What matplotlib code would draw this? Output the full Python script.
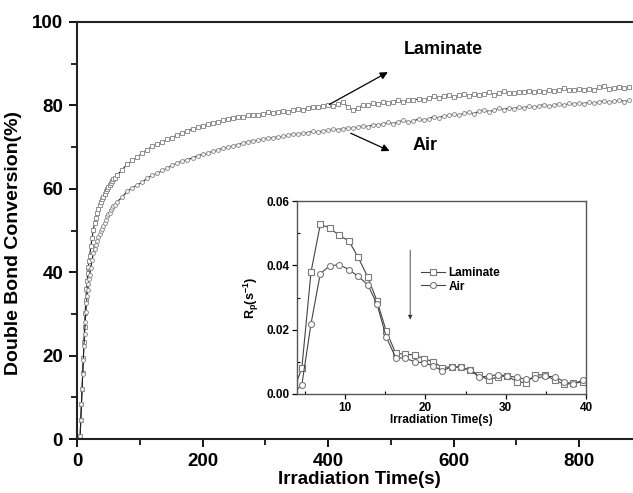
import numpy as np
import matplotlib
matplotlib.use('Agg')
import matplotlib.pyplot as plt
from matplotlib.ticker import MultipleLocator, FormatStrFormatter

plt.rcParams['font.family'] = ['Liberation Sans', 'DejaVu Sans']
plt.rcParams['font.weight'] = 'bold'

#%% data - main plot (double bond conversion, %)

# sampling times (s): dense at start, then every 8 s
t_main = list(range(5, 21)) + list(range(22, 61, 2)) + list(range(64, 881, 8))

conv_laminate = [0.8, 4.5, 8.3, 12.0, 15.8, 19.5, 23.2, 26.8, 30.2, 33.3, 36.0, 38.0, 39.7, 41.2, 42.6, 43.9,
                 46.2, 48.3, 50.1, 51.8, 53.0, 54.1, 55.1, 56.0, 56.8, 57.5,
                 58.1, 58.8, 59.4, 60.0, 60.5, 61.0, 61.4, 61.9, 62.3, 62.7,
                 63.3, 64.6, 65.9, 66.8, 67.6, 68.6, 69.4, 70.2, 70.7, 71.2,
                 71.9, 72.3, 73.0, 73.5, 73.9, 74.3, 74.8, 75.1, 75.6, 75.8,
                 76.1, 76.4, 76.8, 76.9, 77.3, 77.2, 77.6, 77.8, 77.6, 78.0,
                 78.3, 78.1, 78.5, 78.6, 78.4, 78.9, 79.2, 79.0, 79.4, 79.7,
                 79.5, 79.9, 80.1, 79.9, 80.4, 80.7, 79.6, 78.9, 79.4, 80.2,
                 80.0, 80.5, 80.3, 80.8, 80.6, 80.9, 81.2, 80.9, 81.4, 81.2,
                 81.6, 81.3, 81.8, 82.2, 81.7, 82.3, 82.6, 81.9, 82.4, 82.7,
                 82.3, 82.8, 82.5, 82.7, 83.1, 82.6, 83.0, 83.4, 83.0, 82.9,
                 83.3, 83.1, 83.5, 83.2, 83.4, 83.3, 83.6, 83.4, 83.8, 84.1,
                 83.6, 83.7, 83.9, 83.6, 84.0, 83.8, 84.3, 84.6, 84.0, 84.1,
                 84.5, 84.2, 84.4]

conv_air = [0.8, 4.5, 8.3, 12.0, 15.6, 19.0, 22.2, 25.2, 28.0, 30.4, 32.5, 34.3, 35.8, 37.1, 38.3, 39.4,
            41.1, 42.9, 44.5, 45.6, 46.6, 47.6, 48.4, 49.1, 49.8, 50.4,
            51.1, 51.8, 52.6, 53.4, 53.9, 54.3, 54.8, 55.3, 55.8, 56.2,
            56.9, 58.0, 59.4, 60.2, 60.9, 61.6, 62.6, 63.2, 63.7, 64.4,
            65.0, 65.6, 66.2, 66.7, 67.0, 67.4, 67.9, 68.3, 68.5, 69.0,
            69.3, 69.7, 70.0, 70.2, 70.6, 70.9, 71.3, 71.5, 71.6, 72.0,
            72.1, 72.3, 72.4, 72.6, 72.8, 73.2, 73.1, 73.4, 73.5, 73.8,
            73.6, 73.9, 74.0, 74.3, 74.2, 74.4, 74.6, 74.5, 74.8, 75.1,
            74.9, 75.4, 75.3, 75.6, 75.9, 75.6, 76.1, 76.4, 76.0, 76.3,
            76.7, 76.4, 76.8, 77.3, 77.0, 77.5, 77.6, 77.9, 77.6, 78.1,
            78.4, 78.0, 78.6, 78.9, 78.5, 78.8, 79.3, 79.0, 79.4, 79.2,
            79.6, 79.4, 79.8, 79.5, 79.9, 80.2, 79.8, 80.1, 80.4, 80.0,
            80.5, 80.3, 80.6, 80.4, 80.8, 80.5, 80.9, 81.1, 80.7, 81.0,
            81.3, 80.9, 81.2]

assert len(conv_laminate) == len(t_main), (len(conv_laminate), len(t_main))
assert len(conv_air) == len(t_main), (len(conv_air), len(t_main))

#%% data - inset (polymerization rate, 1/s)

t_inset = [3.4, 4.6, 5.75, 6.9, 8.05, 9.25, 10.45, 11.6, 12.8, 13.95, 15.1, 16.3, 17.5, 18.7, 19.8, 21.0,
           22.1, 23.3, 24.4, 25.6, 26.7, 27.9, 29.0, 30.2, 31.4, 32.5, 33.7, 34.9, 36.1, 37.3, 38.4, 39.6]
rp_laminate = [0.0, 0.008, 0.038, 0.0527, 0.0517, 0.0493, 0.0476, 0.0426, 0.0364, 0.029, 0.0197, 0.0126,
               0.0124, 0.0121, 0.0110, 0.0100, 0.0082, 0.0085, 0.0083, 0.0074, 0.0059, 0.0043, 0.0054,
               0.0056, 0.0038, 0.0035, 0.0060, 0.0059, 0.0043, 0.0030, 0.0033, 0.0038]
rp_air = [0.0, 0.0028, 0.0219, 0.0374, 0.0398, 0.0402, 0.0387, 0.0366, 0.034, 0.0281, 0.0178, 0.0113,
          0.0111, 0.0100, 0.0097, 0.0087, 0.0072, 0.0085, 0.0083, 0.0074, 0.0052, 0.0056, 0.0060,
          0.0056, 0.0052, 0.0046, 0.0049, 0.0055, 0.0054, 0.0038, 0.0031, 0.0043]

#%% figure

W, H = 633, 493
fig = plt.figure(figsize=(W/100, H/100), dpi=100)

# main axes (right end runs past the picture edge, as in the source scan)
ax = fig.add_axes([77/W, 1-439/H, 565/W, 417/H])

ax.plot(t_main, conv_laminate, '-', color='#222222', lw=0.8, marker='s', ms=2.8,
        mfc='white', mec='#8f8f8f', mew=0.7)
ax.plot(t_main, conv_air, '-', color='#222222', lw=0.8, marker='o', ms=2.8,
        mfc='white', mec='#8f8f8f', mew=0.7)

ax.set_xlim(0, 900)
ax.set_ylim(0, 100)
ax.xaxis.set_major_locator(MultipleLocator(200))
ax.xaxis.set_minor_locator(MultipleLocator(100))
ax.yaxis.set_major_locator(MultipleLocator(20))
ax.yaxis.set_minor_locator(MultipleLocator(10))
ax.tick_params(which='major', direction='out', length=6, width=1.3, labelsize=13.5, pad=4)
ax.tick_params(which='minor', direction='out', length=4, width=1.2)
for sp in ax.spines.values():
    sp.set_linewidth(1.5)
    sp.set_color('#222222')

ax.set_xlabel('Irradiation Time(s)', fontsize=13.5, fontweight='bold', labelpad=1)
ax.set_ylabel('Double Bond Conversion(%)', fontsize=14, fontweight='bold')
ax.yaxis.set_label_coords(-0.097, 0.47)

ax.annotate('', xy=(499, 88.3), xytext=(398, 79.9),
            arrowprops=dict(arrowstyle='-|>', color='k', lw=0.9, mutation_scale=11))
ax.annotate('', xy=(502, 68.8), xytext=(432, 73.6),
            arrowprops=dict(arrowstyle='-|>', color='k', lw=0.9, mutation_scale=11))
ax.text(583, 93.3, 'Laminate', ha='center', va='center', fontsize=13, fontweight='bold')
ax.text(555, 70.3, 'Air', ha='center', va='center', fontsize=13, fontweight='bold')

# inset
ax2 = fig.add_axes([297/W, 1-394/H, 289/W, 193/H])
ax2.plot(t_inset, rp_laminate, '-', color='#444444', lw=0.8, marker='s', ms=4.3,
         mfc='white', mec='#7a7a7a', mew=0.8, label='Laminate')
ax2.plot(t_inset, rp_air, '-', color='#444444', lw=0.8, marker='o', ms=4.3,
         mfc='white', mec='#7a7a7a', mew=0.8, label='Air')

ax2.set_xlim(4, 40)
ax2.set_ylim(0, 0.06)
ax2.xaxis.set_major_locator(MultipleLocator(10))
ax2.xaxis.set_minor_locator(MultipleLocator(5))
ax2.yaxis.set_major_locator(MultipleLocator(0.02))
ax2.yaxis.set_minor_locator(MultipleLocator(0.01))
ax2.yaxis.set_major_formatter(FormatStrFormatter('%.2f'))
ax2.tick_params(which='major', direction='out', length=3.5, width=0.9, labelsize=8.5, pad=2)
ax2.tick_params(which='minor', direction='in', length=2.5, width=0.8)
for sp in ax2.spines.values():
    sp.set_linewidth(1.0)
    sp.set_color('#555555')

ax2.set_xlabel('Irradiation Time(s)', fontsize=8.5, fontweight='bold', labelpad=0)
ax2.set_ylabel(r'R$_\mathregular{p}$(s$^\mathregular{-1}$)', fontsize=9, fontweight='bold', labelpad=4)

ax2.annotate('', xy=(18.1, 0.0223), xytext=(18.1, 0.0456),
             arrowprops=dict(arrowstyle='-|>', color='#333333', lw=0.6, mutation_scale=6))

ax2.legend(loc='upper left', bbox_to_anchor=(0.41, 0.69), frameon=False, borderpad=0,
           handlelength=2.0, handletextpad=0.3, labelspacing=0.15,
           prop={'size': 8.5, 'weight': 'bold'})

fig.savefig('out.png', dpi=100)
